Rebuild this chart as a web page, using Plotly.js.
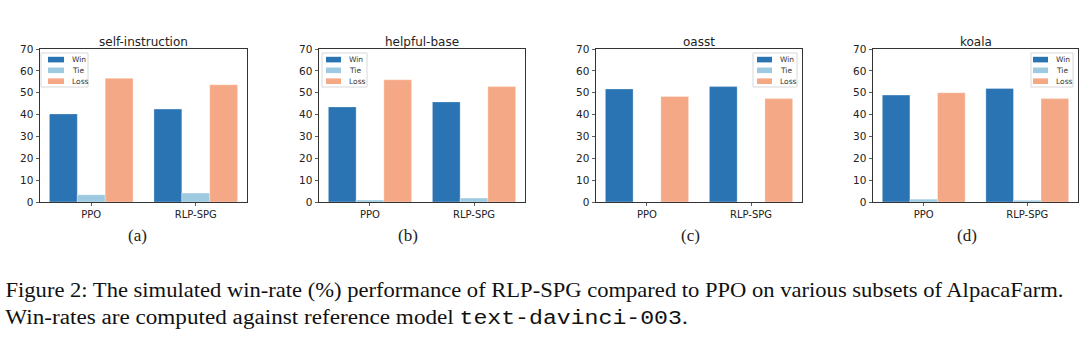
<!DOCTYPE html>
<html>
<head>
<meta charset="utf-8">
<script src="https://cdn.plot.ly/plotly-3.0.1.min.js"></script>
<style>html,body{margin:0;padding:0;background:#fff;}#chart{width:1080px;height:358px;}</style>
</head>
<body>
<div id="chart"></div>
<script>
// ---- data ----
const methods = ["PPO", "RLP-SPG"];
const subsets = ["self-instruction", "helpful-base", "oasst", "koala"];
const panelLabels = ["(a)", "(b)", "(c)", "(d)"];
const seriesNames = ["Win", "Tie", "Loss"];
// values per subset: [PPO, RLP-SPG]
const winSelfInstruction = [40.3, 42.5];
const tieSelfInstruction = [3.3, 4.1];
const lossSelfInstruction = [56.6, 53.6];
const winHelpfulBase = [43.5, 45.8];
const tieHelpfulBase = [0.9, 1.8];
const lossHelpfulBase = [55.9, 52.8];
const winOasst = [51.7, 52.8];
const tieOasst = [0, 0];
const lossOasst = [48.3, 47.3];
const winKoala = [48.9, 51.9];
const tieKoala = [1.3, 0.8];
const lossKoala = [50.0, 47.3];
const yTicks = [0, 10, 20, 30, 40, 50, 60, 70];
const captionLine1 = "Figure 2: The simulated win-rate (%) performance of RLP-SPG compared to PPO on various subsets of AlpacaFarm.";
const captionLine2a = "Win-rates are computed against reference model ";
const captionCode = "text-davinci-003";
const captionLine2b = ".";

// ---- styling ----
const colors = ["#2a74b4", "#9ecae1", "#f5a886"];
const W = 1080, H = 358;
const xDomPx = [[40, 247], [319, 525], [596, 802], [873, 1078]];
const yTopPx = 49, yBotPx = 202;
// legend boxes in px: [x0, x1, swatchX0, swatchX1, textX]
const legendBox = [
  [41, 88, 48, 64, 70],
  [322, 367, 326, 341, 347],
  [753, 797, 757, 772, 778],
  [1031, 1073, 1033, 1048, 1054]
];
const legendY0 = 53, legendY1 = 87;
const legendRowY = [59.6, 70.3, 81.2];
const labelX = [137, 408, 690, 967];
const captionWidths = [1059, 683];

const panelData = [
  [winSelfInstruction, tieSelfInstruction, lossSelfInstruction],
  [winHelpfulBase, tieHelpfulBase, lossHelpfulBase],
  [winOasst, tieOasst, lossOasst],
  [winKoala, tieKoala, lossKoala]
];

const px = v => v / W;
const py = v => (H - v) / H;

const traces = [];
const layout = {
  width: W, height: H,
  margin: {l: 0, r: 0, t: 0, b: 0},
  paper_bgcolor: "#fff", plot_bgcolor: "#fff",
  barmode: "group", bargap: 0.2, bargroupgap: 0,
  font: {family: "DejaVu Sans, sans-serif", size: 10, color: "#222"},
  annotations: [], shapes: [],
  showlegend: false
};

const yDom = [py(yBotPx), py(yTopPx)];

panelData.forEach((vals, p) => {
  const n = p + 1;
  const xa = n === 1 ? "x" : "x" + n;
  const ya = n === 1 ? "y" : "y" + n;
  vals.forEach((v, s) => {
    traces.push({
      type: "bar", x: methods, y: v, name: seriesNames[s],
      xaxis: xa, yaxis: ya,
      marker: {color: colors[s], line: {color: "rgba(255,255,255,0.5)", width: 0.6}},
      hoverinfo: "skip"
    });
  });
  const axCommon = {
    showline: true, mirror: true, linecolor: "#333", linewidth: 1,
    ticks: "outside", ticklen: 3.5, tickwidth: 0.8, tickcolor: "#333",
    showgrid: false, zeroline: false, fixedrange: true,
    tickfont: {family: "DejaVu Sans, sans-serif", size: 10, color: "#222"}
  };
  layout["xaxis" + (n === 1 ? "" : n)] = Object.assign({}, axCommon, {
    domain: [px(xDomPx[p][0]), px(xDomPx[p][1])],
    anchor: ya, type: "category", range: [-0.49, 1.49], ticklen: 3
  });
  layout["yaxis" + (n === 1 ? "" : n)] = Object.assign({}, axCommon, {
    domain: yDom, anchor: xa, range: [0, 70], tickvals: yTicks,
    ticktext: yTicks.map(String), tickfont: {family: "DejaVu Sans, sans-serif", size: 10.5, color: "#222"}
  });
  // legend (box, swatches, labels)
  const lb = legendBox[p];
  layout.shapes.push({
    type: "rect", xref: "paper", yref: "paper",
    x0: px(lb[0]), x1: px(lb[1]), y0: py(legendY1), y1: py(legendY0),
    fillcolor: "rgba(255,255,255,0.85)", line: {color: "#d8d8d8", width: 1}
  });
  seriesNames.forEach((nm, s) => {
    layout.shapes.push({
      type: "rect", xref: "paper", yref: "paper",
      x0: px(lb[2]), x1: px(lb[3]), y0: py(legendRowY[s] + 2.8), y1: py(legendRowY[s] - 2.8),
      fillcolor: colors[s], line: {width: 0}
    });
    layout.annotations.push({
      text: nm, xref: "paper", yref: "paper", showarrow: false,
      x: px(lb[4]), xanchor: "left", y: py(legendRowY[s]), yanchor: "middle",
      font: {family: "DejaVu Sans, sans-serif", size: 7.5, color: "#333"}
    });
  });
  layout.annotations.push({
    text: subsets[p], xref: "paper", yref: "paper", showarrow: false,
    x: px((xDomPx[p][0] + xDomPx[p][1]) / 2), xanchor: "center", y: py(42), yanchor: "middle",
    font: {family: "DejaVu Sans, sans-serif", size: 12, color: "#222"}
  });
  layout.annotations.push({
    text: panelLabels[p], xref: "paper", yref: "paper", showarrow: false,
    x: px(labelX[p]), xanchor: "center", y: py(235), yanchor: "middle",
    font: {family: "Liberation Serif, serif", size: 17, color: "#222"}
  });
});

layout.annotations.push({
  text: captionLine1, xref: "paper", yref: "paper", showarrow: false,
  x: px(3), xanchor: "left", y: py(290), yanchor: "middle",
  font: {family: "Liberation Serif, serif", size: 20.5, color: "#111"}
});
layout.annotations.push({
  text: captionLine2a + '<span style="font-family:\'Liberation Mono\', monospace">' + captionCode + '</span>' + captionLine2b,
  xref: "paper", yref: "paper", showarrow: false,
  x: px(3), xanchor: "left", y: py(318), yanchor: "middle",
  font: {family: "Liberation Serif, serif", size: 20.5, color: "#111"}
});

Plotly.newPlot("chart", traces, layout, {staticPlot: true, displayModeBar: false}).then(gd => {
  // fit caption lines to the measured width of the reference lines
  const texts = Array.from(gd.querySelectorAll(".annotation-text"));
  texts.forEach(t => {
    const c = t.textContent;
    let target = null;
    if (c.startsWith("Figure 2")) target = captionWidths[0];
    else if (c.startsWith("Win-rates")) target = captionWidths[1];
    if (!target) return;
    const bb = t.getBBox();
    const sx = target / bb.width;
    const old = t.getAttribute("transform") || "";
    t.setAttribute("transform", old + ` translate(${bb.x * (1 - sx)},0) scale(${sx},1)`);
  });
});
</script>
</body>
</html>
